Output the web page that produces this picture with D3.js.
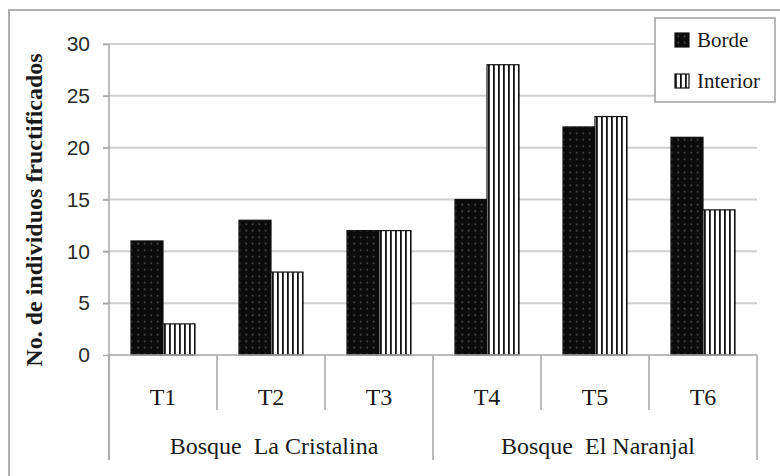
<!DOCTYPE html>
<html>
<head>
<meta charset="utf-8">
<script src="https://cdn.jsdelivr.net/npm/d3@7"></script>
<style>
  html, body { margin: 0; padding: 0; background: #fff; }
  svg { display: block; }
</style>
</head>
<body>
<svg id="chart" width="780" height="476"></svg>
<script>
// Fruiting individuals per transect, edge vs interior
const categories = ["T1", "T2", "T3", "T4", "T5", "T6"];
const seriesNames = ["Borde", "Interior"];
const borde = [11, 13, 12, 15, 22, 21];
const interior = [3, 8, 12, 28, 23, 14];
const yTicks = [0, 5, 10, 15, 20, 25, 30];
const groups = [
  { name: "Bosque  La Cristalina", from: "T1", to: "T3" },
  { name: "Bosque  El Naranjal", from: "T4", to: "T6" }
];
const yTitle = "No. de individuos fructificados";

const svg = d3.select("#chart");
const serif = "'Liberation Serif', 'Times New Roman', serif";
const sans = "'Liberation Sans', Arial, sans-serif";
const axisGray = "#a6a6a6";
const ink = "#1a1a1a";

// Fill patterns: dotted black for edge, vertical stripes for interior
const defs = svg.append("defs");
const dots = defs.append("pattern").attr("id", "pat-borde")
  .attr("patternUnits", "userSpaceOnUse").attr("width", 6.5).attr("height", 6.5);
dots.append("rect").attr("width", 6.5).attr("height", 6.5).attr("fill", "#0b0b0b");
dots.append("circle").attr("cx", 3.2).attr("cy", 3.2).attr("r", 0.9).attr("fill", "#5a5a5a");

const stripes = defs.append("pattern").attr("id", "pat-interior")
  .attr("patternUnits", "userSpaceOnUse").attr("width", 5).attr("height", 10);
stripes.append("rect").attr("width", 5).attr("height", 10).attr("fill", "#fff");
stripes.append("rect").attr("x", 0).attr("width", 1.8).attr("height", 10).attr("fill", "#111");

const fills = { Borde: "url(#pat-borde)", Interior: "url(#pat-interior)" };

// Outer frame (runs off the right and bottom edges)
svg.append("path")
  .attr("d", "M9,476 V10 H780")
  .attr("fill", "none").attr("stroke", "#b0b0b0").attr("stroke-width", 2);

// Scales
const x = d3.scaleBand().domain(categories).range([109, 757]).padding(0);
const xInner = d3.scaleBand().domain(seriesNames).range([0, x.bandwidth()])
  .paddingInner(0).paddingOuter(0.6875);
const y = d3.scaleLinear().domain([0, 30]).range([355, 44]);

// Horizontal gridlines
svg.append("g").selectAll("line")
  .data(yTicks.filter(d => d > 0))
  .join("line")
  .attr("x1", 103).attr("x2", 757)
  .attr("y1", d => y(d)).attr("y2", d => y(d))
  .attr("stroke", "#cfcfcf").attr("stroke-width", 2);

// Y axis
const yAxis = svg.append("g").attr("transform", "translate(109,0)")
  .call(d3.axisLeft(y).tickValues(yTicks).tickSize(6).tickPadding(13));
yAxis.select(".domain").remove();
yAxis.selectAll(".tick line").attr("stroke", axisGray).attr("stroke-width", 1.5);
yAxis.selectAll(".tick text")
  .attr("font-family", sans).attr("font-size", 21).attr("fill", "#2a2a2a");
svg.append("line")
  .attr("x1", 109).attr("x2", 109).attr("y1", y(30)).attr("y2", 460)
  .attr("stroke", axisGray).attr("stroke-width", 1.5);

// Bars
const data = categories.map((c, i) => ({ cat: c, values: [
  { key: "Borde", value: borde[i] },
  { key: "Interior", value: interior[i] }
]}));
const barG = svg.append("g").selectAll("g").data(data).join("g")
  .attr("transform", d => `translate(${x(d.cat)},0)`);
barG.selectAll("rect").data(d => d.values).join("rect")
  .attr("x", d => xInner(d.key))
  .attr("width", xInner.bandwidth())
  .attr("y", d => y(d.value))
  .attr("height", d => y(0) - y(d.value))
  .attr("fill", d => fills[d.key])
  .attr("stroke", "#111").attr("stroke-width", 1.2);

// Category axis: baseline, separators and labels
svg.append("line")
  .attr("x1", 109).attr("x2", 757).attr("y1", y(0)).attr("y2", y(0))
  .attr("stroke", axisGray).attr("stroke-width", 1.5);

const groupEdges = new Set();
groups.forEach(g => { groupEdges.add(x(g.from)); groupEdges.add(x(g.to) + x.bandwidth()); });
const edges = categories.map(c => x(c)).concat([x(categories[categories.length - 1]) + x.bandwidth()]);
svg.append("g").selectAll("line").data(edges).join("line")
  .attr("x1", d => d).attr("x2", d => d)
  .attr("y1", y(0)).attr("y2", d => groupEdges.has(d) ? 460 : 410)
  .attr("stroke", axisGray).attr("stroke-width", 1.5);

svg.append("g").selectAll("text").data(categories).join("text")
  .attr("x", d => x(d) + x.bandwidth() / 2)
  .attr("y", 405)
  .attr("text-anchor", "middle")
  .attr("font-family", serif).attr("font-size", 24).attr("fill", ink)
  .text(d => d);

svg.append("g").selectAll("text").data(groups).join("text")
  .attr("x", d => (x(d.from) + x(d.to) + x.bandwidth()) / 2 + 3)
  .attr("y", 454)
  .attr("text-anchor", "middle")
  .attr("font-family", serif).attr("font-size", 24).attr("fill", ink)
  .style("white-space", "pre")
  .attr("xml:space", "preserve")
  .text(d => d.name);

// Y axis title
svg.append("text")
  .attr("transform", "translate(42,210) rotate(-90)")
  .attr("text-anchor", "middle")
  .attr("font-family", serif).attr("font-weight", "bold")
  .attr("font-size", 24).attr("fill", ink)
  .text(yTitle);

// Legend
const legend = svg.append("g");
legend.append("rect")
  .attr("x", 655).attr("y", 18).attr("width", 120).attr("height", 84)
  .attr("fill", "#fff").attr("stroke", "#a0a0a0").attr("stroke-width", 1.5);
const legItems = legend.selectAll("g").data(seriesNames).join("g")
  .attr("transform", (d, i) => `translate(675,${33 + i * 41})`);
legItems.append("rect")
  .attr("width", 14).attr("height", 14)
  .attr("fill", d => fills[d]).attr("stroke", "#111").attr("stroke-width", 1.2);
legItems.append("text")
  .attr("x", 22).attr("y", 14)
  .attr("font-family", serif).attr("font-size", 21).attr("fill", ink)
  .text(d => d);
</script>
</body>
</html>
